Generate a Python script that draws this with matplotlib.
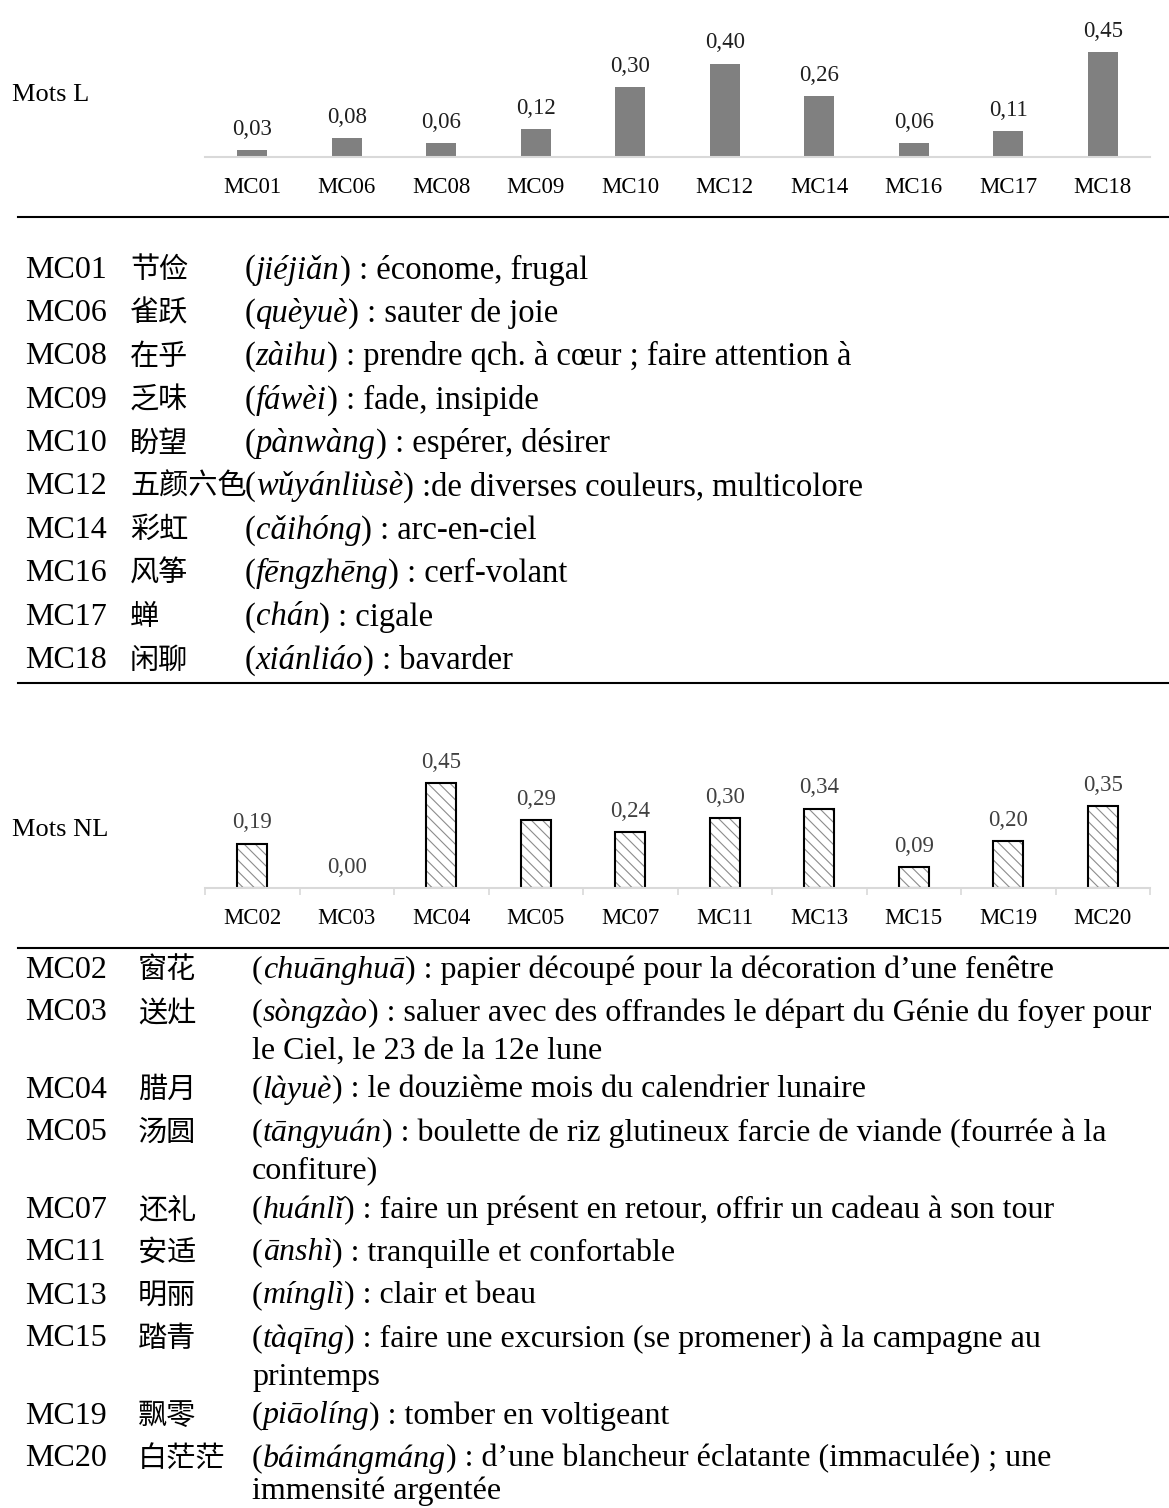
import matplotlib
matplotlib.use('Agg')
import matplotlib.pyplot as plt

W, H = 1169, 1508

codes_l = ['MC01', 'MC06', 'MC08', 'MC09', 'MC10', 'MC12', 'MC14', 'MC16', 'MC17', 'MC18']
vals_l = [0.03, 0.08, 0.06, 0.12, 0.30, 0.40, 0.26, 0.06, 0.11, 0.45]
codes_nl = ['MC02', 'MC03', 'MC04', 'MC05', 'MC07', 'MC11', 'MC13', 'MC15', 'MC19', 'MC20']
vals_nl = [0.19, 0.00, 0.45, 0.29, 0.24, 0.30, 0.34, 0.09, 0.20, 0.35]

hanzi_l = ['节俭', '雀跃', '在乎', '乏味', '盼望', '五颜六色', '彩虹', '风筝', '蝉', '闲聊']
pinyin_l = ['jiéjiǎn', 'quèyuè', 'zàihu', 'fáwèi', 'pànwàng', 'wǔyánliùsè',
            'cǎihóng', 'fēngzhēng', 'chán', 'xiánliáo']
sens_l = [' : économe, frugal', ' : sauter de joie',
          ' : prendre qch. à cœur ; faire attention à', ' : fade, insipide',
          ' : espérer, désirer', ' :de diverses couleurs, multicolore',
          ' : arc-en-ciel', ' : cerf-volant', ' : cigale', ' : bavarder']

hanzi_nl = ['窗花', '送灶', '腊月', '汤圆', '还礼', '安适', '明丽', '踏青', '飘零', '白茫茫']
pinyin_nl = ['chuānghuā', 'sòngzào', 'làyuè', 'tāngyuán', 'huánlǐ', 'ānshì',
             'mínglì', 'tàqīng', 'piāolíng', 'báimángmáng']
sens_nl = [[' : papier découpé pour la décoration d’une fenêtre'],
           [' : saluer avec des offrandes le départ du Génie du foyer pour',
            'le Ciel, le 23 de la 12e lune'],
           [' : le douzième mois du calendrier lunaire'],
           [' : boulette de riz glutineux farcie de viande (fourrée à la',
            'confiture)'],
           [' : faire un présent en retour, offrir un cadeau à son tour'],
           [' : tranquille et confortable'],
           [' : clair et beau'],
           [' : faire une excursion (se promener) à la campagne au',
            'printemps'],
           [' : tomber en voltigeant'],
           [' : d’une blancheur éclatante (immaculée) ; une',
            'immensité argentée']]

SERIF = ['Liberation Serif', 'DejaVu Serif']
CJK = ['Noto Sans CJK SC', 'DejaVu Sans']
plt.rcParams['font.family'] = SERIF
plt.rcParams['hatch.linewidth'] = 0.8

fig = plt.figure(figsize=(W / 100, H / 100), dpi=100)
renderer = fig.canvas.get_renderer()

def fx(x):
    return x / W

def fy(y):
    return 1 - y / H

PX_PER_UNIT = 233.5

def make_axes(base_y):
    top = base_y - 0.5 * PX_PER_UNIT
    ax = fig.add_axes([fx(205), fy(base_y), (1150 - 205) / W, (base_y - top) / H])
    ax.set_xlim(-0.5, 9.5)
    ax.set_ylim(0, 0.5)
    for s in ['top', 'right', 'left']:
        ax.spines[s].set_visible(False)
    ax.spines['bottom'].set_color('#d9d9d9')
    ax.spines['bottom'].set_linewidth(1.5)
    ax.set_yticks([])
    ax.patch.set_alpha(0)
    return ax

def value_labels(ax, vals, color):
    for i, v in enumerate(vals):
        ax.annotate(f'{v:.2f}'.replace('.', ','), (i, v), xytext=(0, 11),
                    textcoords='offset points', ha='center', va='baseline',
                    fontsize=16.5, color=color, annotation_clip=False)

# chart 1 : Mots L
ax1 = make_axes(157)
ax1.bar(range(len(vals_l)), vals_l, width=0.32, color='#808080')
ax1.set_xticks(range(len(codes_l)), codes_l, fontsize=16.5)
ax1.tick_params(axis='x', length=0, pad=14.5)
value_labels(ax1, vals_l, '#1f1f1f')
fig.text(fx(12), fy(95), 'Mots L', fontsize=19, va='center', ha='left')

# chart 2 : Mots NL
ax2 = make_axes(888)
x2 = range(len(vals_nl))
ax2.bar(x2, vals_nl, width=0.32, color='white', edgecolor='#8c8c8c',
        linewidth=0, hatch='\\\\\\')
ax2.bar([i for i, v in zip(x2, vals_nl) if v > 0], [v for v in vals_nl if v > 0],
        width=0.32, fill=False, edgecolor='black', linewidth=1.5)
ax2.set_xticks(range(len(codes_nl)), codes_nl, fontsize=16.5)
ax2.set_xticks([i - 0.5 for i in range(len(codes_nl) + 1)], minor=True)
ax2.tick_params(axis='x', which='major', length=0, pad=14.5)
ax2.tick_params(axis='x', which='minor', length=5, width=1.2, color='#d9d9d9')
value_labels(ax2, vals_nl, '#404040')
fig.text(fx(12), fy(830), 'Mots NL', fontsize=19, va='center', ha='left')

def runs(x, y, parts, fs):
    for txt, style in parts:
        t = fig.text(fx(x), fy(y), txt, fontsize=fs, style=style, va='center',
                     ha='left', family=SERIF)
        x += t.get_window_extent(renderer).width
    return x

def hline(y):
    fig.add_artist(plt.Line2D([fx(18), fx(1169)], [fy(y), fy(y)],
                              color='black', linewidth=1.5))

# table 1
FS1 = 23.5
hline(217)
y = 270
for code, hz, py, sens in zip(codes_l, hanzi_l, pinyin_l, sens_l):
    fig.text(fx(25), fy(y), code, fontsize=FS1 - 0.5, va='center', family=SERIF)
    fig.text(fx(130), fy(y), hz, fontsize=FS1 - 2.5, va='center', family=CJK,
             fontweight='light')
    runs(245, y, [('(', 'normal'), (py, 'italic'), (')' + sens, 'normal')], FS1)
    y += 43.4
hline(683)

# table 2
FS2 = 23
hline(948)
y = 970
for code, hz, py, sens in zip(codes_nl, hanzi_nl, pinyin_nl, sens_nl):
    fig.text(fx(25), fy(y), code, fontsize=FS2, va='center', family=SERIF)
    fig.text(fx(138), fy(y), hz, fontsize=FS2 - 2, va='center', family=CJK,
             fontweight='light')
    runs(252, y, [('(', 'normal'), (py, 'italic'), (')' + sens[0], 'normal')], FS2)
    if len(sens) > 1:
        y += 38
        # keep the last wrapped line inside the page
        runs(252, min(y, H - 17), [(sens[1], 'normal')], FS2)
        y += 39
    else:
        y += 43

fig.savefig('out.png', dpi=100)
